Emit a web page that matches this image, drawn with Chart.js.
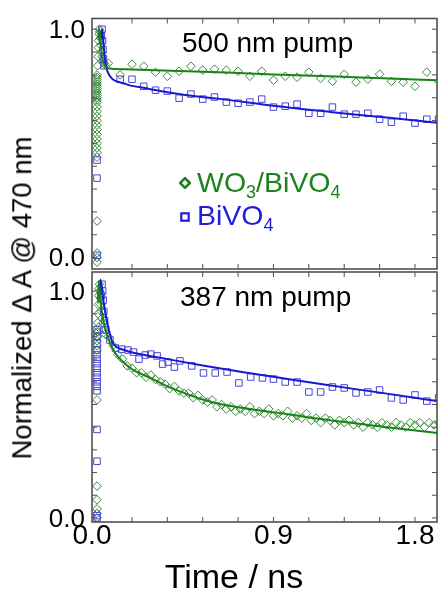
<!DOCTYPE html>
<html>
<head>
<meta charset="utf-8">
<script src="https://cdn.jsdelivr.net/npm/chart.js@4.4.1/dist/chart.umd.min.js"></script>
<style>
  html, body { margin: 0; padding: 0; background: #fff; }
  #wrap { position: relative; width: 440px; height: 590px; overflow: hidden;
          font-family: "Liberation Sans", Arial, sans-serif; color: #000; }
  canvas { position: absolute; left: 0; }
  #cTop { top: 0; }
  #cBot { top: 271px; }
  .lbl { position: absolute; white-space: nowrap; line-height: 1; }
  .sub { font-size: 18px; vertical-align: -6px; }
  #ytitle { left: 22px; top: 298px; font-size: 27.5px;
            transform: translate(-50%, -50%) rotate(-90deg); }
  #xtitle { left: 234px; top: 559px; font-size: 34px; transform: translateX(-50%); }
  #p1 { left: 182px; top: 29px; font-size: 28px; }
  #p2 { left: 180px; top: 283px; font-size: 28px; }
  .leg { font-size: 28.5px; left: 197px; }
  #leg1 { top: 168px; color: rgb(30,130,30); }
  #leg2 { top: 201px; color: rgb(30,30,215); }
  .mk { position: absolute; }
</style>
</head>
<body>
<div id="wrap">
  <canvas id="cTop" width="440" height="271"></canvas>
  <canvas id="cBot" width="440" height="319"></canvas>
  <div class="lbl" id="ytitle">Normalized Δ A @ 470 nm</div>
  <div class="lbl" id="xtitle">Time / ns</div>
  <div class="lbl" id="p1">500 nm pump</div>
  <div class="lbl" id="p2">387 nm pump</div>
  <svg class="mk" style="left:179px;top:177px" width="12" height="12">
    <path d="M6 1.2 L10.8 6 L6 10.8 L1.2 6 Z" fill="none" stroke="rgb(30,130,30)" stroke-width="2.6"/>
  </svg>
  <svg class="mk" style="left:180px;top:212px" width="10" height="10">
    <rect x="1.3" y="1.3" width="7.4" height="7.4" fill="none" stroke="rgb(30,30,215)" stroke-width="2.2"/>
  </svg>
  <div class="lbl leg" id="leg1">WO<span class="sub">3</span>/BiVO<span class="sub">4</span></div>
  <div class="lbl leg" id="leg2">BiVO<span class="sub">4</span></div>
</div>
<script>
// ---- axes ----
const X_MIN = -0.254, X_MAX = 1.94;           // ns
const xTickLabels = ['0.0', '0.9', '1.8'];
const xLabelValues = [X_MIN, 0.9, 1.8];
const xMinorTicks = [0, 0.225, 0.45, 0.675, 0.9, 1.125, 1.35, 1.575, 1.8];
const yTickLabels = ['0.0', '1.0'];
const yLabelValues = [0, 1];
const yMinorTicks = [0, 0.1, 0.2, 0.3, 0.4, 0.5, 0.6, 0.7, 0.8, 0.9, 1.0];

// ---- 500 nm pump ----
const topRiseTime = -0.222;
const topGreenRise = [-0.02, 0.0, 0.02, 0.16, 0.44, 0.46, 0.48, 0.50, 0.52, 0.54, 0.56, 0.58, 0.60,
  0.62, 0.64, 0.66, 0.68, 0.69, 0.70, 0.71, 0.72, 0.73, 0.74, 0.75, 0.76, 0.77, 0.78, 0.79, 0.80];
const topGreenPeakTime = [-0.218, -0.216, -0.214, -0.212, -0.21, -0.207, -0.204, -0.201, -0.198, -0.195, -0.19, -0.185, -0.178, -0.17];
const topGreenPeakValue = [0.84, 0.88, 0.92, 0.95, 0.98, 1.0, 0.99, 0.96, 0.93, 0.90, 0.88, 0.86, 0.85, 0.845];
const topTime = [-0.15, -0.075, 0, 0.075, 0.15, 0.225, 0.3, 0.375, 0.45, 0.525, 0.6, 0.675, 0.75, 0.825,
  0.9, 0.975, 1.05, 1.125, 1.2, 1.275, 1.35, 1.425, 1.5, 1.575, 1.65, 1.725, 1.8, 1.875, 1.95];
const topGreen = [0.851, 0.80, 0.847, 0.838, 0.812, 0.794, 0.816, 0.838, 0.821, 0.825, 0.821, 0.816, 0.794, 0.816,
  0.777, 0.794, 0.790, 0.812, 0.785, 0.772, 0.803, 0.768, 0.781, 0.803, 0.772, 0.768, 0.75, 0.812, 0.772];
const topBlueRise = [0.01, 0.348, 0.427];
const topBluePeakTime = [-0.195, -0.19, -0.187, -0.184, -0.181, -0.178];
const topBluePeakValue = [0.97, 1.0, 0.95, 0.91, 0.87, 0.84];
const topBlue = [0.781, 0.781, 0.75, 0.733, 0.729, 0.698, 0.716, 0.694, 0.703, 0.681, 0.676, 0.681, 0.694, 0.659,
  0.663, 0.672, 0.632, 0.632, 0.659, 0.628, 0.628, 0.632, 0.606, 0.593, 0.619, 0.589, 0.606, 0.606];
const topGreenFitTime = [-0.212, -0.207, -0.2, -0.19, -0.18, -0.165, -0.14, -0.1, -0.05, 0.0, 0.3, 0.6, 0.9, 1.2, 1.5, 1.8, 1.94];
const topGreenFit = [0.96, 1.0, 0.95, 0.88, 0.85, 0.835, 0.828, 0.826, 0.825, 0.824, 0.817, 0.81, 0.802, 0.795, 0.788, 0.78, 0.777];
const topBlueFitTime = [-0.197, -0.19, -0.18, -0.17, -0.158, -0.14, -0.12, -0.09, -0.05, 0.0, 0.07, 0.225, 0.43, 0.56, 0.9, 1.26, 1.62, 1.94];
const topBlueFit = [0.96, 1.0, 0.93, 0.86, 0.82, 0.795, 0.78, 0.77, 0.762, 0.752, 0.744, 0.724, 0.704, 0.695, 0.665, 0.638, 0.613, 0.59];

// ---- 387 nm pump ----
const botRiseTime = -0.222;
const botGreenRise = [0.0, 0.02, 0.04, 0.08, 0.14, 0.52, 0.74, 0.76, 0.78, 0.80, 0.82];
const botGreenPeakTime = [-0.218, -0.216, -0.214, -0.212, -0.21, -0.207, -0.204, -0.201, -0.198, -0.195, -0.19, -0.185,
  -0.178, -0.17, -0.218, -0.215, -0.212];
const botGreenPeakValue = [0.86, 0.90, 0.94, 0.98, 1.01, 1.03, 1.0, 0.97, 0.94, 0.91, 0.88, 0.86, 0.83, 0.81, 0.80, 0.82, 0.84];
const botGreenTime = [-0.15, -0.12, -0.09, -0.06, -0.03, 0.00, 0.03, 0.06, 0.09, 0.12,
  0.15, 0.18, 0.21, 0.24, 0.27, 0.30, 0.33, 0.36, 0.39, 0.42,
  0.45, 0.48, 0.51, 0.54, 0.57, 0.60, 0.63, 0.66, 0.69, 0.72,
  0.75, 0.78, 0.81, 0.84, 0.87, 0.90, 0.93, 0.96, 0.99, 1.02,
  1.05, 1.08, 1.11, 1.14, 1.17, 1.20, 1.23, 1.26, 1.29, 1.32,
  1.35, 1.38, 1.41, 1.44, 1.47, 1.50, 1.53, 1.56, 1.59, 1.62,
  1.65, 1.68, 1.71, 1.74, 1.77, 1.80, 1.83, 1.86, 1.89, 1.92,
  1.95];
const botGreen = [0.80, 0.76, 0.72, 0.70, 0.67, 0.66, 0.64, 0.64, 0.62, 0.63,
  0.61, 0.60, 0.59, 0.57, 0.58, 0.56, 0.55, 0.55, 0.53, 0.54,
  0.52, 0.51, 0.52, 0.49, 0.50, 0.48, 0.49, 0.47, 0.48, 0.47,
  0.49, 0.46, 0.47, 0.46, 0.48, 0.45, 0.46, 0.45, 0.47, 0.44,
  0.45, 0.44, 0.46, 0.43, 0.44, 0.42, 0.44, 0.43, 0.41, 0.43,
  0.42, 0.43, 0.41, 0.42, 0.40, 0.42, 0.41, 0.40, 0.42, 0.41,
  0.40, 0.42, 0.41, 0.40, 0.42, 0.41, 0.42, 0.40, 0.42, 0.41,
  0.42];
const botBlueRise = [0.0, 0.01, 0.25, 0.39, 0.56, 0.58, 0.60, 0.62, 0.64, 0.66, 0.68, 0.70, 0.72, 0.74, 0.77, 0.80, 0.83];
const botBluePeakTime = [-0.195, -0.19, -0.186, -0.183, -0.179, -0.174, -0.168];
const botBluePeakValue = [0.98, 1.03, 1.0, 0.96, 0.91, 0.87, 0.83];
const botBlueTime = [-0.14, -0.105, -0.065, -0.025, 0.01, 0.045, 0.085, 0.12, 0.16, 0.195,
  0.23, 0.27, 0.305, 0.38, 0.455, 0.53, 0.605, 0.68, 0.755, 0.83,
  0.9, 0.975, 1.05, 1.125, 1.2, 1.275, 1.35, 1.425, 1.5, 1.575,
  1.65, 1.725, 1.8, 1.875, 1.95];
const botBlue = [0.784, 0.749, 0.744, 0.74, 0.731, 0.70, 0.718, 0.722, 0.714, 0.678,
  0.687, 0.665, 0.692, 0.67, 0.639, 0.639, 0.643, 0.595, 0.621, 0.617,
  0.612, 0.599, 0.599, 0.555, 0.555, 0.577, 0.573, 0.551, 0.555, 0.564,
  0.529, 0.52, 0.542, 0.515, 0.529];
const botGreenFitTime = [-0.216, -0.212, -0.205, -0.195, -0.182, -0.16, -0.138, -0.11, -0.074, -0.03, 0.009, 0.117,
  0.225, 0.326, 0.434, 0.56, 0.77, 0.99, 1.2, 1.41, 1.62, 1.83, 1.94];
const botGreenFit = [0.95, 1.04, 1.0, 0.93, 0.87, 0.81, 0.77, 0.73, 0.70, 0.672, 0.652, 0.617,
  0.58, 0.552, 0.525, 0.502, 0.478, 0.457, 0.436, 0.418, 0.40, 0.383, 0.374];
const botBlueFitTime = [-0.205, -0.2, -0.182, -0.157, -0.125, -0.093, -0.05, 0.01, 0.225, 0.45, 0.7, 0.9, 1.2, 1.5, 1.8, 1.94];
const botBlueFit = [0.98, 1.05, 0.96, 0.86, 0.775, 0.752, 0.74, 0.728, 0.7, 0.672, 0.643, 0.622, 0.59, 0.56, 0.53, 0.515];

// ---- styling ----
const GREEN_PT = 'rgb(55,140,55)';
const GREEN_LN = 'rgb(25,130,25)';
const BLUE_PT = 'rgb(70,70,215)';
const BLUE_LN = 'rgb(25,25,210)';
const FONT = '"Liberation Sans", Arial, sans-serif';

const pts = (ts, vs) => ts.map((t, i) => ({ x: t, y: vs[i] }));
const column = (t, vs) => vs.map(v => ({ x: t, y: v }));

function greenPoints(data) {
  return { type: 'scatter', data, order: 2, clip: 0, showLine: false,
    pointStyle: 'rectRot', pointRadius: 4.3, borderWidth: 1,
    borderColor: GREEN_PT, backgroundColor: 'rgba(0,0,0,0)', pointBackgroundColor: 'rgba(0,0,0,0)' };
}
function bluePoints(data) {
  return { type: 'scatter', data, order: 2, clip: 0, showLine: false,
    pointStyle: 'rect', pointRadius: 4.6, borderWidth: 1,
    borderColor: BLUE_PT, backgroundColor: 'rgba(0,0,0,0)', pointBackgroundColor: 'rgba(0,0,0,0)' };
}
function fitLine(data, color) {
  return { type: 'line', data, order: 0, clip: 0, borderColor: color, borderWidth: 2,
    pointRadius: 0, fill: false, cubicInterpolationMode: 'monotone' };
}

// frame with inward ticks on all four sides
const frameTicks = {
  id: 'frameTicks',
  afterDatasetsDraw(chart) {
    const { ctx, chartArea: a, scales: { x, y } } = chart;
    ctx.save();
    ctx.strokeStyle = '#505050';
    ctx.lineWidth = 1;
    ctx.beginPath();
    for (const v of xMinorTicks) {
      const px = x.getPixelForValue(v);
      ctx.moveTo(px, a.bottom); ctx.lineTo(px, a.bottom - 5);
      ctx.moveTo(px, a.top); ctx.lineTo(px, a.top + 5);
    }
    for (const v of yMinorTicks) {
      const py = y.getPixelForValue(v);
      ctx.moveTo(a.left, py); ctx.lineTo(a.left + 5, py);
      ctx.moveTo(a.right, py); ctx.lineTo(a.right - 5, py);
    }
    ctx.stroke();
    ctx.lineWidth = 1.6;
    ctx.strokeRect(a.left, a.top, a.right - a.left, a.bottom - a.top);
    ctx.restore();
  }
};

// labels sit inside the panel, so no extra room is reserved for them
function noEdgePadding(s) {
  s.paddingTop = 0; s.paddingBottom = 0; s.paddingLeft = 0; s.paddingRight = 0;
}

function yScale(min, max) {
  return {
    type: 'linear', min, max,
    afterFit: s => { s.width = 92; noEdgePadding(s); },
    afterBuildTicks: s => { s.ticks = yLabelValues.map(v => ({ value: v })); },
    ticks: { callback: (v, i) => yTickLabels[i], color: '#000', padding: 7, labelOffset: 1.5,
             font: { family: FONT, size: 26 } },
    grid: { display: false, drawTicks: false },
    border: { display: false }
  };
}

function baseOptions(padding, xScale, yS) {
  return {
    responsive: false, animation: false,
    layout: { padding, autoPadding: false },
    plugins: { legend: { display: false }, tooltip: { enabled: false } },
    scales: { x: xScale, y: yS }
  };
}

new Chart(document.getElementById('cTop'), {
  type: 'scatter',
  data: { datasets: [
    fitLine(pts(topGreenFitTime, topGreenFit), GREEN_LN),
    fitLine(pts(topBlueFitTime, topBlueFit), BLUE_LN),
    bluePoints(column(topRiseTime, topBlueRise)
      .concat(pts(topBluePeakTime, topBluePeakValue), pts(topTime.slice(1), topBlue))),
    greenPoints(column(topRiseTime, topGreenRise)
      .concat(pts(topGreenPeakTime, topGreenPeakValue), pts(topTime, topGreen)))
  ] },
  options: baseOptions({ top: 18.5, right: 3, bottom: 2, left: 0 },
    { type: 'linear', min: X_MIN, max: X_MAX, display: false },
    yScale(-0.05, 1.047)),
  plugins: [frameTicks]
});

new Chart(document.getElementById('cBot'), {
  type: 'scatter',
  data: { datasets: [
    fitLine(pts(botGreenFitTime, botGreenFit), GREEN_LN),
    fitLine(pts(botBlueFitTime, botBlueFit), BLUE_LN),
    bluePoints(column(botRiseTime, botBlueRise)
      .concat(pts(botBluePeakTime, botBluePeakValue), pts(botBlueTime, botBlue))),
    greenPoints(column(botRiseTime, botGreenRise)
      .concat(pts(botGreenPeakTime, botGreenPeakValue), pts(botGreenTime, botGreen)))
  ] },
  options: baseOptions({ top: 1, right: 3, bottom: 0, left: 0 },
    {
      type: 'linear', min: X_MIN, max: X_MAX,
      afterFit: s => { s.height = 68; noEdgePadding(s); },
      afterBuildTicks: s => { s.ticks = xLabelValues.map(v => ({ value: v })); },
      ticks: { callback: (v, i) => xTickLabels[i], color: '#000', padding: -3,
               autoSkip: false, maxRotation: 0, font: { family: FONT, size: 28 } },
      grid: { display: false, drawTicks: false },
      border: { display: false }
    },
    yScale(-0.018, 1.084)),
  plugins: [frameTicks]
});
</script>
</body>
</html>
